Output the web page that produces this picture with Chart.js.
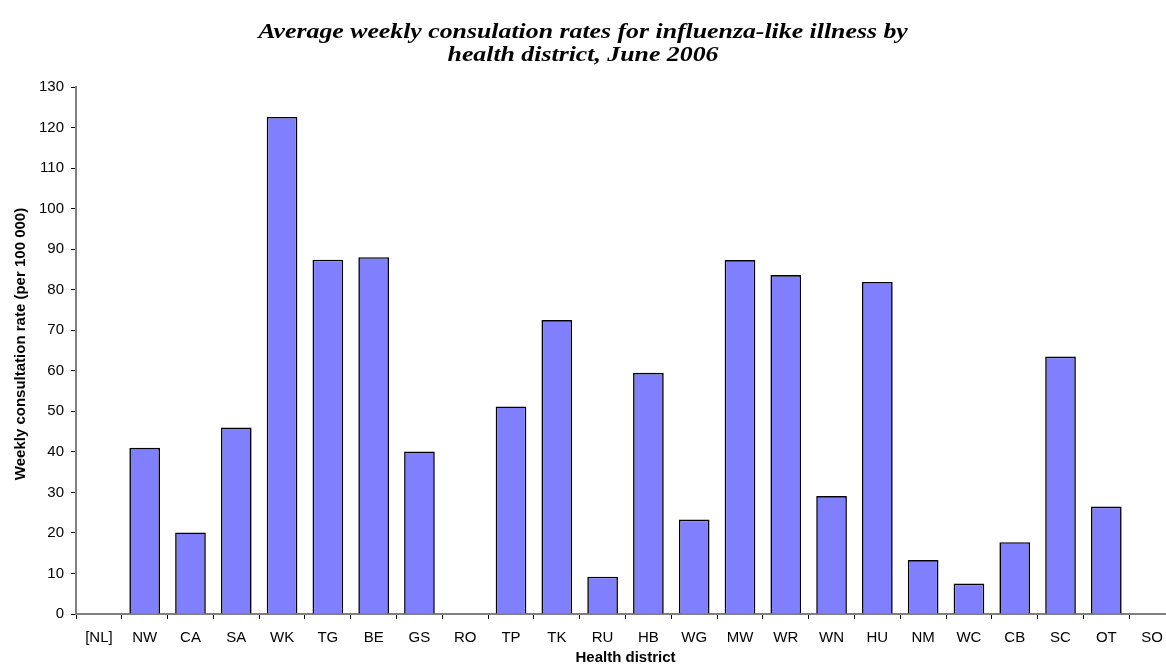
<!DOCTYPE html>
<html>
<head>
<meta charset="utf-8">
<script src="https://cdn.jsdelivr.net/npm/chart.js"></script>
<style>
  html, body { margin: 0; padding: 0; background: #fff; overflow: hidden; }
  #chart { display: block; }
</style>
</head>
<body>
<canvas id="chart" width="1176" height="669"></canvas>
<script>
const districts = ['[NL]', 'NW', 'CA', 'SA', 'WK', 'TG', 'BE', 'GS', 'RO', 'TP', 'TK', 'RU',
    'HB', 'WG', 'MW', 'WR', 'WN', 'HU', 'NM', 'WC', 'CB', 'SC', 'OT', 'SO'];
// weekly consultation rate per 100 000 (null = no data)
const rates = [null, 41.0, 20.1, 46.0, 122.6, 87.4, 88.0, 40.1, null, 51.2, 72.5, 9.2,
    59.5, 23.3, 87.3, 83.6, 29.1, 81.9, 13.3, 7.5, 17.7, 63.5, 26.5, null];
const yMin = 0;
const yMax = 130;
const yStep = 10;

const titleLines = ['Average weekly consulation rates for influenza-like illness by',
    'health district, June 2006'];
const xTitle = 'Health district';
const yTitle = 'Weekly consultation rate (per 100 000)';

const sans = "'Liberation Sans', Arial, sans-serif";

// the original title is set in a wide serif, so draw it stretched a bit
const chartTexts = {
    id: 'chartTexts',
    afterDraw(chart) {
        const ctx = chart.ctx;
        ctx.save();
        ctx.fillStyle = '#000';
        ctx.textAlign = 'center';
        ctx.textBaseline = 'alphabetic';
        ctx.font = "italic bold 20px 'Liberation Serif', 'Times New Roman', serif";
        const baselines = [37.5, 61];
        titleLines.forEach((line, i) => {
            ctx.save();
            ctx.translate(583, baselines[i]);
            ctx.scale(1.29, 1);
            ctx.fillText(line, 0, 0);
            ctx.restore();
        });
        // y axis title
        ctx.font = "bold 15px " + sans;
        ctx.textBaseline = 'middle';
        ctx.translate(21, 344);
        ctx.rotate(-Math.PI / 2);
        ctx.fillText(yTitle, 0, 0);
        ctx.restore();
    }
};

const ctx = document.getElementById('chart');
new Chart(ctx, {
    type: 'bar',
    data: {
        labels: districts,
        datasets: [{
            data: rates,
            backgroundColor: '#8080ff',
            borderColor: '#000000',
            borderWidth: 1.6,
            barPercentage: 0.67,
            categoryPercentage: 1
        }]
    },
    options: {
        responsive: false,
        animation: false,
        layout: { padding: { left: 0, right: 1, top: 87, bottom: 0 } },
        plugins: {
            legend: { display: false },
            tooltip: { enabled: false },
            title: { display: false }
        },
        scales: {
            x: {
                grid: { offset: true, drawOnChartArea: false, drawTicks: true, tickLength: 5, color: '#000' },
                border: { color: '#808080', width: 2 },
                ticks: { color: '#000', font: { family: sans, size: 15 }, padding: 10, maxRotation: 0, autoSkip: false },
                title: { display: true, text: xTitle, color: '#000', font: { family: sans, size: 15, weight: 'bold' }, padding: { top: 2, bottom: 2 } },
                afterFit: s => { s.height = 55; }
            },
            y: {
                min: yMin,
                max: yMax,
                grid: { drawOnChartArea: false, drawTicks: true, tickLength: 5, color: '#000' },
                border: { color: '#808080', width: 2 },
                ticks: { stepSize: yStep, color: '#000', font: { family: sans, size: 15 }, padding: 7 },
                afterFit: s => { s.width = 76; }
            }
        }
    },
    plugins: [chartTexts]
});
</script>
</body>
</html>
